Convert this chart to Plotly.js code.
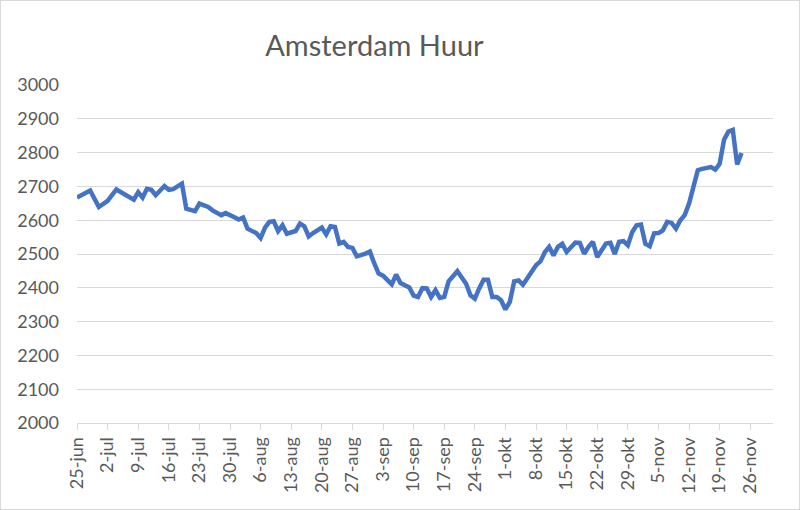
<!DOCTYPE html>
<html>
<head>
<meta charset="utf-8">
<script src="https://cdn.plot.ly/plotly-3.0.1.min.js"></script>
<style>
html, body { margin: 0; padding: 0; background: #ffffff; }
#chart { position: absolute; left: 0; top: 0; width: 798px; height: 508px; border: 1px solid #d9d9d9; }
</style>
</head>
<body>
<div id="chart"></div>
<script>
const dates = [
  "2018-06-25","2018-06-27","2018-06-28","2018-06-30","2018-07-02","2018-07-04","2018-07-06","2018-07-08",
  "2018-07-09","2018-07-10","2018-07-11","2018-07-12","2018-07-13","2018-07-15","2018-07-16","2018-07-17",
  "2018-07-19","2018-07-20","2018-07-22","2018-07-23","2018-07-25","2018-07-26","2018-07-28","2018-07-29",
  "2018-07-31","2018-08-01","2018-08-02","2018-08-03","2018-08-05","2018-08-06","2018-08-07","2018-08-08",
  "2018-08-09","2018-08-10","2018-08-11","2018-08-12","2018-08-14","2018-08-15","2018-08-16","2018-08-17",
  "2018-08-18","2018-08-20","2018-08-21","2018-08-22","2018-08-23","2018-08-24","2018-08-25","2018-08-26",
  "2018-08-27","2018-08-28","2018-08-30","2018-08-31","2018-09-01","2018-09-02","2018-09-03","2018-09-05",
  "2018-09-06","2018-09-07","2018-09-09","2018-09-10","2018-09-11","2018-09-12","2018-09-13","2018-09-14",
  "2018-09-15","2018-09-16","2018-09-17","2018-09-18","2018-09-20","2018-09-22","2018-09-23","2018-09-24",
  "2018-09-25","2018-09-26","2018-09-27","2018-09-28","2018-09-29","2018-09-30","2018-10-01","2018-10-02",
  "2018-10-03","2018-10-04","2018-10-05","2018-10-06","2018-10-08","2018-10-09","2018-10-10","2018-10-11",
  "2018-10-12","2018-10-13","2018-10-14","2018-10-15","2018-10-16","2018-10-17","2018-10-18","2018-10-19",
  "2018-10-20","2018-10-21","2018-10-22","2018-10-23","2018-10-24","2018-10-25","2018-10-26","2018-10-27",
  "2018-10-28","2018-10-29","2018-10-30","2018-10-31","2018-11-01","2018-11-02","2018-11-03","2018-11-04",
  "2018-11-05","2018-11-06","2018-11-07","2018-11-08","2018-11-09","2018-11-10","2018-11-11","2018-11-12",
  "2018-11-13","2018-11-14","2018-11-15","2018-11-16","2018-11-17","2018-11-18","2018-11-19","2018-11-20",
  "2018-11-21","2018-11-22","2018-11-23","2018-11-24"
];
const huur = [
  2667,2683,2688,2639,2657,2691,2677,2661,
  2683,2667,2693,2690,2674,2701,2690,2692,
  2708,2634,2627,2649,2639,2629,2615,2621,
  2609,2602,2608,2575,2562,2547,2578,2595,
  2597,2568,2585,2560,2568,2590,2582,2552,
  2562,2578,2558,2582,2580,2531,2536,2521,
  2518,2493,2501,2507,2472,2442,2436,2410,
  2439,2414,2401,2377,2373,2399,2398,2373,
  2393,2370,2373,2419,2449,2412,2378,2368,
  2398,2424,2424,2373,2373,2363,2336,2358,
  2419,2422,2409,2427,2467,2478,2505,2521,
  2496,2521,2530,2506,2519,2534,2533,2501,
  2521,2536,2491,2511,2531,2533,2500,2536,
  2538,2526,2565,2585,2587,2530,2523,2561,
  2562,2570,2595,2592,2575,2600,2615,2649,
  2698,2748,2752,2754,2757,2750,2767,2838,
  2862,2867,2765,2799
];
const tickDates = [
  "2018-06-25","2018-07-02","2018-07-09","2018-07-16","2018-07-23","2018-07-30","2018-08-06","2018-08-13",
  "2018-08-20","2018-08-27","2018-09-03","2018-09-10","2018-09-17","2018-09-24","2018-10-01","2018-10-08",
  "2018-10-15","2018-10-22","2018-10-29","2018-11-05","2018-11-12","2018-11-19","2018-11-26"
];
const tickLabels = [
  "25-jun","2-jul","9-jul","16-jul","23-jul","30-jul","6-aug","13-aug",
  "20-aug","27-aug","3-sep","10-sep","17-sep","24-sep","1-okt","8-okt",
  "15-okt","22-okt","29-okt","5-nov","12-nov","19-nov","26-nov"
];
const chartTitle = "Amsterdam Huur";

const fontFam = "Lato, 'Open Sans', sans-serif";
const trace = {
  x: dates,
  y: huur,
  type: "scatter",
  mode: "lines",
  line: { color: "#4472C4", width: 4.5, shape: "linear" },
  hoverinfo: "x+y"
};
const layout = {
  width: 798,
  height: 508,
  margin: { l: 75.7, r: 25.7, t: 83.7, b: 86.3, pad: 0 },
  paper_bgcolor: "#ffffff",
  plot_bgcolor: "#ffffff",
  showlegend: false,
  title: {
    text: chartTitle,
    x: 0.468, xref: "container", xanchor: "center",
    y: 0.912, yref: "container", yanchor: "middle",
    font: { family: fontFam, size: 29, color: "#595959" }
  },
  xaxis: {
    type: "date",
    range: ["2018-06-25", "2018-12-01 04:48"],
    tickmode: "array",
    tickvals: tickDates,
    ticktext: tickLabels,
    tickangle: -90,
    ticks: "outside",
    ticklen: 6,
    tickcolor: "#d9d9d9",
    tickwidth: 1,
    showline: true,
    linecolor: "#d9d9d9",
    linewidth: 1,
    showgrid: false,
    zeroline: false,
    tickfont: { family: fontFam, size: 18, color: "#595959" }
  },
  yaxis: {
    range: [2000, 3000],
    dtick: 100,
    tick0: 2000,
    showgrid: true,
    gridcolor: "#d9d9d9",
    gridwidth: 1,
    zeroline: false,
    showline: false,
    ticks: "",
    ticklabelstandoff: 17,
    tickfont: { family: fontFam, size: 18, color: "#595959" }
  }
};
Plotly.newPlot("chart", [trace], layout, { displayModeBar: false, staticPlot: true });
</script>
</body>
</html>
